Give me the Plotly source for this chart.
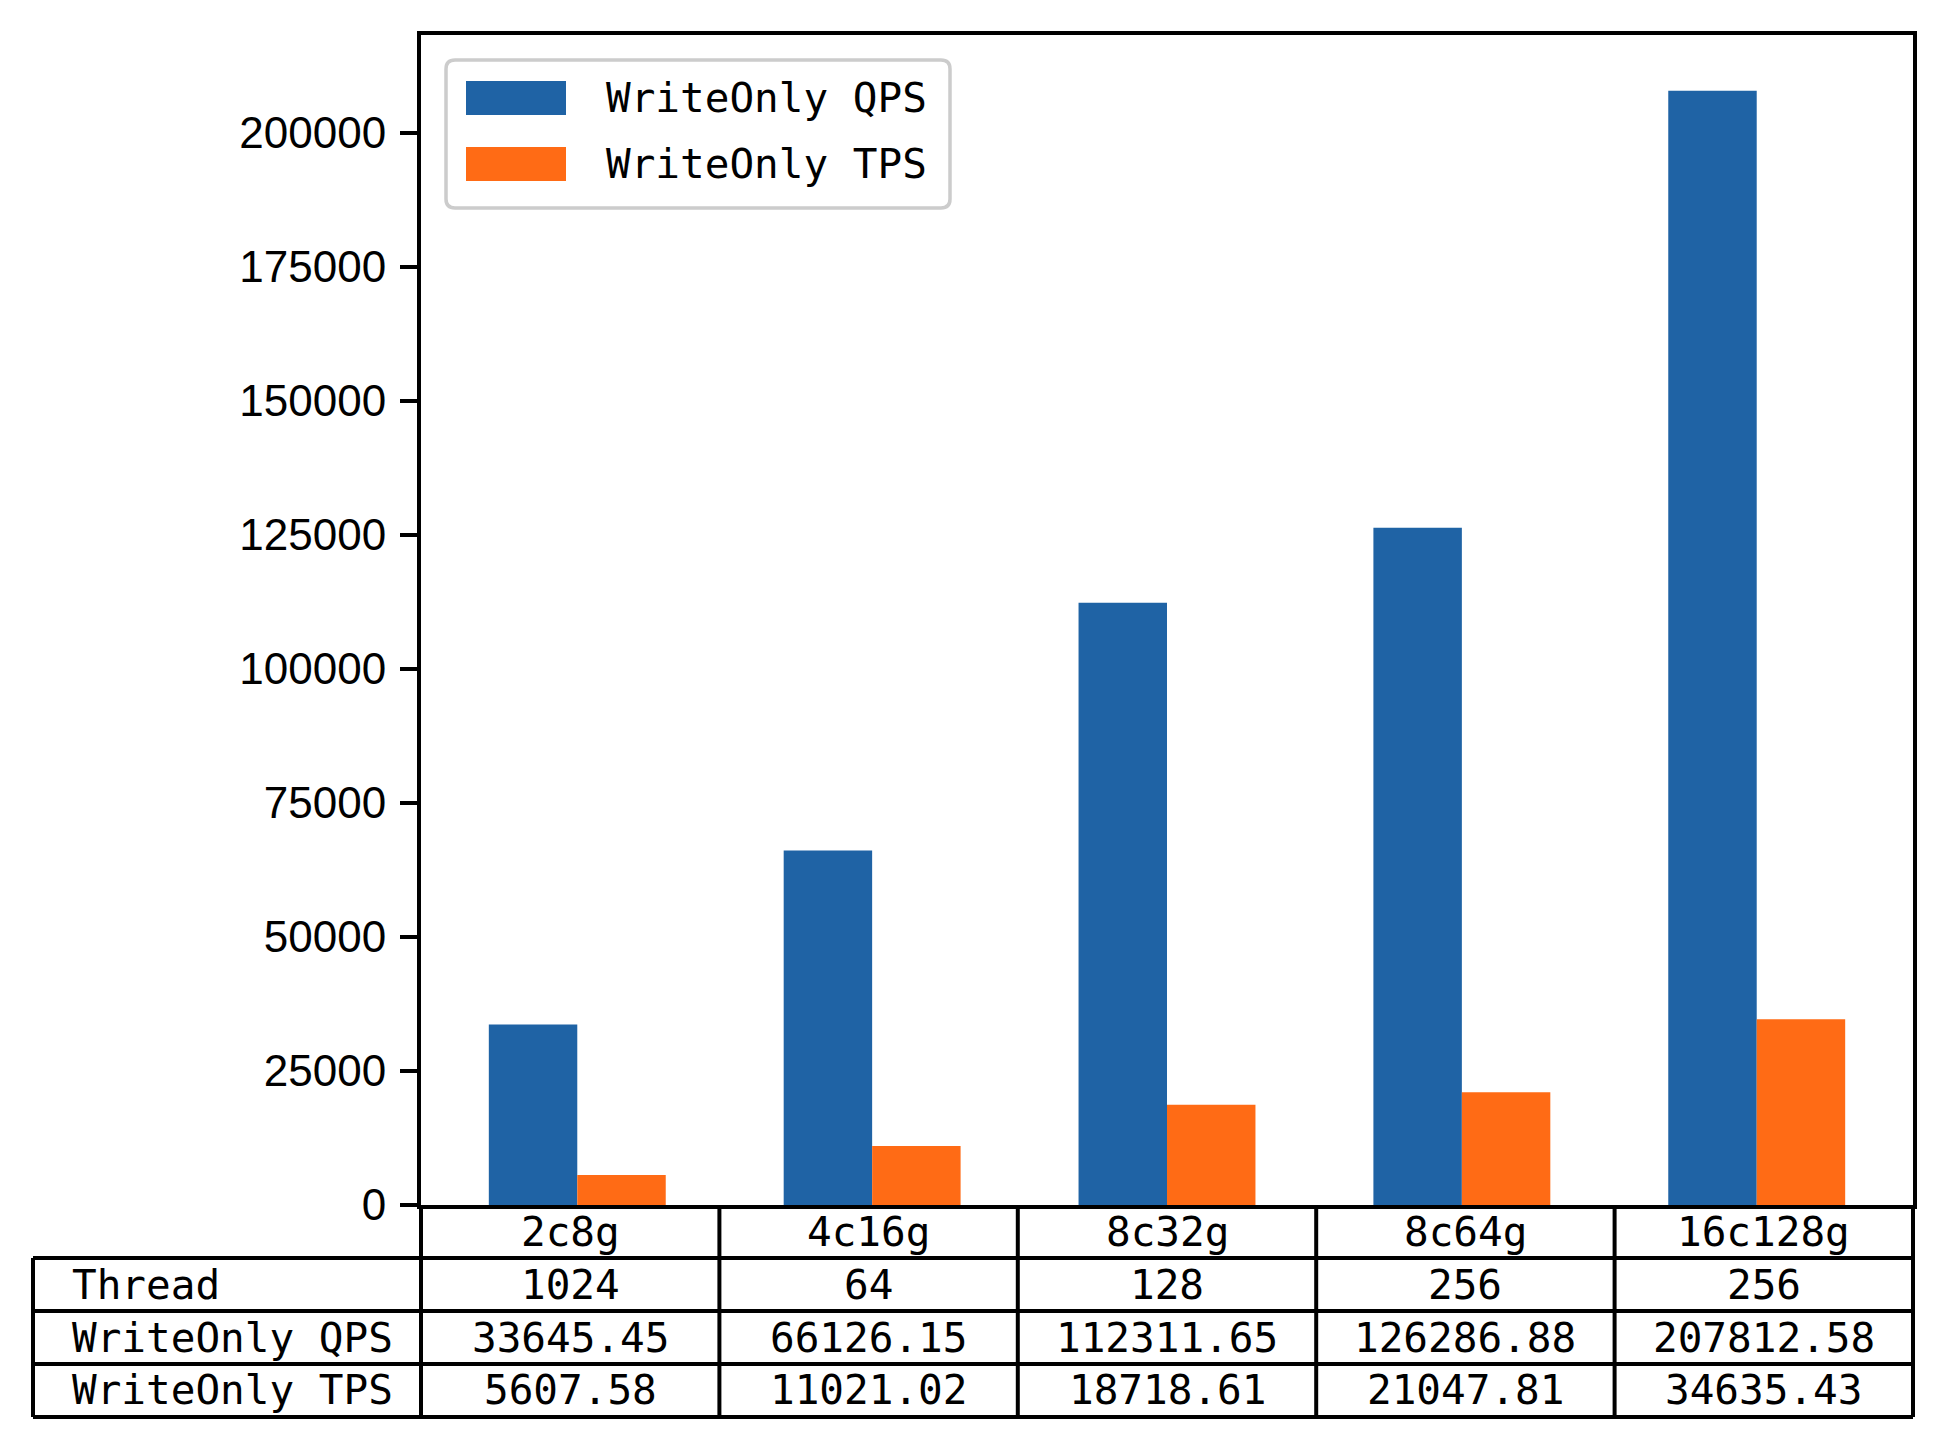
import plotly.graph_objects as go

# ---------------- data ----------------
categories = ["2c8g", "4c16g", "8c32g", "8c64g", "16c128g"]
threads = [1024, 64, 128, 256, 256]
qps = [33645.45, 66126.15, 112311.65, 126286.88, 207812.58]
tps = [5607.58, 11021.02, 18718.61, 21047.81, 34635.43]
series_names = ["WriteOnly QPS", "WriteOnly TPS"]
row_labels = ["Thread", "WriteOnly QPS", "WriteOnly TPS"]
y_ticks = [0, 25000, 50000, 75000, 100000, 125000, 150000, 175000, 200000]

# ---------------- style ----------------
BLUE = "#1f63a5"
ORANGE = "#ff6b15"
W, H = 1948, 1450
L, R, T, B = 421, 35, 35, 245
PW, PH = W - L - R, H - T - B
MONO = "DejaVu Sans Mono"
SANS = "Liberation Sans"
LW = 4

def px_x(px):
    return (px - L) / PW

def px_y(py):
    return (H - B - py) / PH

n = len(categories)
xs = list(range(n))

fig = go.Figure()
fig.add_trace(go.Bar(x=xs, y=qps, name=series_names[0], marker_color=BLUE,
                     marker_line_width=0))
fig.add_trace(go.Bar(x=xs, y=tps, name=series_names[1], marker_color=ORANGE,
                     marker_line_width=0))

half = 0.3
span = (n - 1) + 2 * half
xr = [-half - 0.05 * span, (n - 1) + half + 0.05 * span]
yr = [0, max(qps) * 1.05]

shapes = []
annotations = []

# ---------------- table ----------------
row_h = 53 / PH
table_left = px_x(33)
col_w = 1.0 / n
rows_text = [[str(t) for t in threads],
             [f"{v:.2f}" for v in qps],
             [f"{v:.2f}" for v in tps]]
line = dict(color="black", width=LW)
for k in range(n + 1):
    shapes.append(dict(type="line", xref="paper", yref="paper",
                       x0=k * col_w, x1=k * col_w, y0=0, y1=-4 * row_h, line=line))
shapes.append(dict(type="line", xref="paper", yref="paper",
                   x0=table_left, x1=table_left, y0=-row_h, y1=-4 * row_h, line=line))
for r in range(1, 5):
    shapes.append(dict(type="line", xref="paper", yref="paper",
                       x0=table_left, x1=1, y0=-r * row_h, y1=-r * row_h, line=line))
for k, c in enumerate(categories):
    annotations.append(dict(text=c, xref="paper", yref="paper",
                            x=(k + 0.5) * col_w, y=-0.5 * row_h, showarrow=False,
                            xanchor="center", yanchor="middle",
                            font=dict(family=MONO, size=41, color="black")))
for r, (lab, vals) in enumerate(zip(row_labels, rows_text)):
    yc = -(r + 1.5) * row_h
    annotations.append(dict(text=lab, xref="paper", yref="paper",
                            x=px_x(70), y=yc, showarrow=False,
                            xanchor="left", yanchor="middle",
                            font=dict(family=MONO, size=41, color="black")))
    for k, v in enumerate(vals):
        annotations.append(dict(text=v, xref="paper", yref="paper",
                                x=(k + 0.5) * col_w, y=yc, showarrow=False,
                                xanchor="center", yanchor="middle",
                                font=dict(family=MONO, size=41, color="black")))

# ---------------- legend (custom) ----------------
bx0, bx1 = px_x(446), px_x(950)
by0, by1 = px_y(208), px_y(60)
rx, ry = 9 / PW, 9 / PH
path = (f"M{bx0+rx},{by0} L{bx1-rx},{by0} Q{bx1},{by0} {bx1},{by0+ry} "
        f"L{bx1},{by1-ry} Q{bx1},{by1} {bx1-rx},{by1} L{bx0+rx},{by1} "
        f"Q{bx0},{by1} {bx0},{by1-ry} L{bx0},{by0+ry} Q{bx0},{by0} {bx0+rx},{by0} Z")
shapes.append(dict(type="path", xref="paper", yref="paper", path=path,
                   fillcolor="rgba(255,255,255,0.8)",
                   line=dict(color="#cccccc", width=3.5), layer="above"))
for i, (nm, col) in enumerate(zip(series_names, [BLUE, ORANGE])):
    top = 81 + i * 66
    shapes.append(dict(type="rect", xref="paper", yref="paper",
                       x0=px_x(466), x1=px_x(566), y0=px_y(top + 34), y1=px_y(top),
                       fillcolor=col, line=dict(width=0), layer="above"))
    annotations.append(dict(text=nm, xref="paper", yref="paper",
                            x=px_x(604), y=px_y(top + 17), showarrow=False,
                            xanchor="left", yanchor="middle",
                            font=dict(family=MONO, size=41, color="black")))

fig.update_layout(
    width=W, height=H, autosize=False,
    margin=dict(l=L, r=R, t=T, b=B, pad=0),
    paper_bgcolor="white", plot_bgcolor="white",
    barmode="group", bargap=0.4, bargroupgap=0,
    showlegend=False,
    shapes=shapes, annotations=annotations,
    xaxis=dict(range=xr, showticklabels=False, ticks="", showgrid=False,
               zeroline=False, showline=True, mirror=True,
               linecolor="black", linewidth=LW),
    yaxis=dict(range=yr, tickvals=y_ticks, tickformat="d", ticks="outside",
               ticklen=17, tickwidth=LW, tickcolor="black", showgrid=False,
               zeroline=False, showline=True, mirror=True,
               linecolor="black", linewidth=LW, ticklabelstandoff=5,
               tickfont=dict(family=SANS, size=44, color="black")),
)

fig.write_html("out.html",
               config={"displayModeBar": False},
               post_script="document.body.style.margin='0';"
                           "document.body.style.overflow='hidden';")
